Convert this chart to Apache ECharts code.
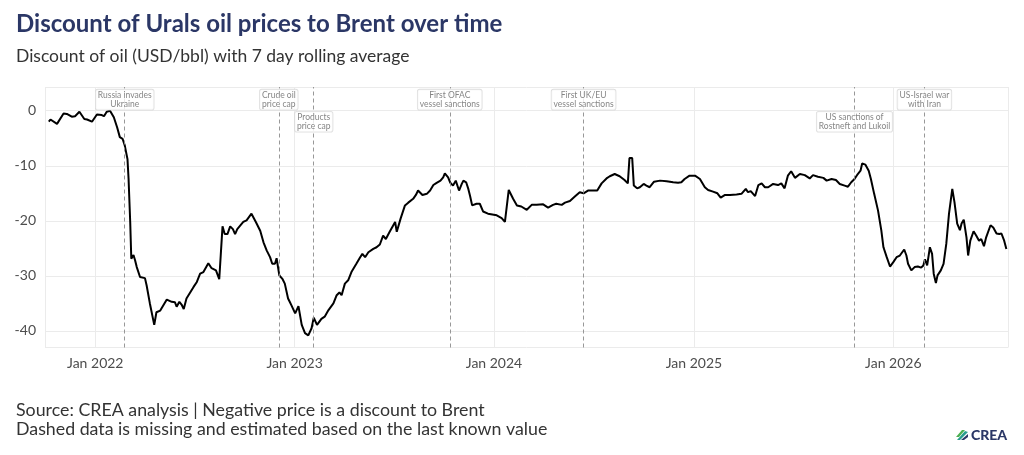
<!DOCTYPE html>
<html>
<head>
<meta charset="utf-8">
<script src="https://cdn.jsdelivr.net/npm/echarts@6/dist/echarts.min.js"></script>
<style>
  html, body { margin: 0; padding: 0; background: #fff; }
  #chart { width: 1024px; height: 455px; }
</style>
</head>
<body>
<div id="chart"></div>
<script>
// ---------------- DATA ----------------
const dates = [
  "2021-10-08","2021-10-11","2021-10-23","2021-11-04","2021-11-10","2021-11-19","2021-11-25","2021-12-03",
  "2021-12-12","2021-12-17","2021-12-26","2022-01-04","2022-01-13","2022-01-17","2022-01-22","2022-01-28",
  "2022-01-31","2022-02-04","2022-02-10","2022-02-15","2022-02-20","2022-02-24","2022-03-01","2022-03-03",
  "2022-03-06","2022-03-08","2022-03-12","2022-03-15","2022-03-18","2022-03-24","2022-04-02","2022-04-05",
  "2022-04-11","2022-04-19","2022-04-23","2022-04-30","2022-05-12","2022-05-15","2022-05-21","2022-05-27",
  "2022-05-30","2022-06-04","2022-06-08","2022-06-12","2022-06-17","2022-06-30","2022-07-06","2022-07-12",
  "2022-07-18","2022-07-27","2022-08-02","2022-08-10","2022-08-16","2022-08-22","2022-08-26","2022-08-31",
  "2022-09-05","2022-09-10","2022-09-14","2022-09-18","2022-09-29","2022-10-05","2022-10-14","2022-10-22",
  "2022-10-30","2022-11-05","2022-11-11","2022-11-17","2022-11-21","2022-11-26","2022-11-29","2022-12-04",
  "2022-12-10","2022-12-14","2022-12-20","2022-12-23","2022-12-26","2023-01-02","2023-01-08","2023-01-14",
  "2023-01-20","2023-01-26","2023-02-01","2023-02-05","2023-02-11","2023-02-19","2023-02-25","2023-03-04",
  "2023-03-13","2023-03-19","2023-03-24","2023-03-28","2023-04-03","2023-04-09","2023-04-15","2023-04-24",
  "2023-05-01","2023-05-05","2023-05-10","2023-05-16","2023-05-25","2023-05-31","2023-06-06","2023-06-12",
  "2023-06-17","2023-06-24","2023-07-04","2023-07-07","2023-07-10","2023-07-14","2023-07-22","2023-07-28",
  "2023-08-06","2023-08-11","2023-08-15","2023-08-23","2023-08-31","2023-09-06","2023-09-12","2023-09-18",
  "2023-09-25","2023-09-30","2023-10-03","2023-10-09","2023-10-13","2023-10-18","2023-10-23","2023-10-26",
  "2023-10-29","2023-11-03","2023-11-06","2023-11-11","2023-11-15","2023-11-18","2023-11-22","2023-11-30",
  "2023-12-06","2023-12-12","2023-12-21","2024-01-06","2024-01-15","2024-01-21","2024-01-28","2024-02-05",
  "2024-02-12","2024-02-20","2024-03-01","2024-03-10","2024-03-19","2024-03-31","2024-04-09","2024-04-18",
  "2024-04-24","2024-05-04","2024-05-10","2024-05-19","2024-05-28","2024-06-06","2024-06-13","2024-06-21",
  "2024-07-08","2024-07-16","2024-07-25","2024-07-31","2024-08-09","2024-08-18","2024-08-27","2024-09-02",
  "2024-09-05","2024-09-10","2024-09-13","2024-09-19","2024-09-24","2024-10-01","2024-10-06","2024-10-12",
  "2024-10-20","2024-10-31","2024-11-12","2024-11-24","2024-12-03","2024-12-09","2024-12-15","2024-12-24",
  "2025-01-03","2025-01-12","2025-01-21","2025-01-27","2025-02-05","2025-02-13","2025-02-19","2025-02-27",
  "2025-03-08","2025-03-20","2025-03-29","2025-04-06","2025-04-10","2025-04-15","2025-04-23","2025-04-29",
  "2025-05-05","2025-05-11","2025-05-17","2025-05-26","2025-06-04","2025-06-10","2025-06-16","2025-06-22",
  "2025-06-28","2025-07-05","2025-07-14","2025-07-23","2025-08-01","2025-08-07","2025-08-16","2025-08-26",
  "2025-09-01","2025-09-10","2025-09-18","2025-09-25","2025-10-04","2025-10-10","2025-10-16","2025-10-22",
  "2025-10-28","2025-11-02","2025-11-05","2025-11-11","2025-11-17","2025-11-21","2025-11-27","2025-12-04",
  "2025-12-10","2025-12-14","2025-12-20","2025-12-26","2026-01-01","2026-01-07","2026-01-13","2026-01-16",
  "2026-01-21","2026-01-25","2026-01-28","2026-02-03","2026-02-09","2026-02-15","2026-02-21","2026-02-25",
  "2026-02-28","2026-03-04","2026-03-09","2026-03-13","2026-03-16","2026-03-20","2026-03-23","2026-03-29",
  "2026-04-03","2026-04-08","2026-04-13","2026-04-15","2026-04-19","2026-04-23","2026-04-28","2026-05-03",
  "2026-05-06","2026-05-10","2026-05-15","2026-05-18","2026-05-22","2026-05-28","2026-06-02","2026-06-07",
  "2026-06-11","2026-06-16","2026-06-20","2026-06-28","2026-07-03","2026-07-09","2026-07-14","2026-07-18",
  "2026-07-23","2026-07-27"
];
const discount = [
  -2.0,-1.6,-2.4,-0.5,-0.6,-1.1,-1.0,-0.2,
  -1.5,-1.6,-2.0,-0.7,-0.8,-1.0,-0.2,0.0,
  0.3,-1.2,-3.0,-4.8,-5.1,-6.3,-8.8,-12.4,
  -20.2,-26.9,-26.2,-27.2,-28.4,-30.2,-30.4,-31.7,
  -35.0,-38.9,-36.6,-36.3,-34.3,-34.6,-34.7,-34.8,
  -35.6,-34.7,-35.2,-36.0,-34.1,-32.0,-31.1,-29.6,
  -29.3,-27.7,-28.6,-29.0,-30.6,-21.0,-22.4,-22.4,
  -21.0,-21.5,-22.4,-21.5,-20.2,-19.9,-18.7,-20.2,
  -21.8,-23.9,-25.4,-26.6,-27.8,-27.8,-26.8,-29.9,
  -30.6,-31.4,-34.1,-34.7,-35.3,-36.8,-35.5,-38.9,
  -40.4,-40.8,-39.5,-37.6,-38.9,-37.8,-37.4,-36.2,
  -35.0,-33.5,-33.0,-33.5,-31.4,-30.8,-29.3,-27.8,
  -26.6,-26.0,-26.6,-25.7,-25.1,-24.8,-24.3,-22.7,
  -23.3,-22.0,-20.2,-22.0,-22.1,-19.6,-17.2,-16.7,
  -16.0,-15.3,-14.5,-15.3,-15.1,-14.5,-13.5,-13.1,
  -12.7,-12.1,-11.4,-12.1,-13.1,-13.6,-12.7,-12.9,
  -14.5,-13.3,-12.7,-13.0,-14.2,-15.4,-17.2,-16.9,
  -16.9,-18.3,-18.7,-19.0,-19.5,-20.2,-14.4,-16.0,
  -17.2,-17.4,-18.0,-17.1,-17.1,-17.0,-17.6,-17.1,
  -16.9,-17.1,-16.7,-16.4,-15.6,-14.8,-15.0,-14.5,
  -14.5,-13.2,-12.3,-11.9,-11.5,-11.9,-12.6,-13.2,
  -8.6,-8.6,-13.6,-14.1,-13.9,-13.3,-13.6,-13.9,
  -12.9,-12.7,-12.8,-13.0,-13.1,-13.0,-12.4,-11.8,
  -11.8,-12.4,-13.9,-14.4,-14.7,-15.0,-15.8,-15.3,
  -15.3,-15.2,-15.1,-14.2,-14.8,-14.6,-15.5,-13.5,
  -13.2,-13.9,-13.9,-13.3,-13.5,-13.2,-14.1,-11.8,
  -11.0,-12.2,-11.5,-11.7,-12.3,-11.7,-12.0,-12.2,
  -12.7,-12.4,-12.6,-13.3,-13.6,-13.8,-13.0,-12.4,
  -11.5,-10.9,-9.6,-9.8,-10.9,-12.4,-15.1,-18.1,
  -21.7,-24.8,-26.6,-28.3,-27.5,-26.6,-26.3,-26.3,
  -25.2,-26.3,-27.8,-29.0,-28.4,-28.3,-28.5,-28.1,
  -27.0,-28.1,-24.8,-26.0,-29.6,-31.3,-29.9,-29.0,
  -27.8,-24.2,-18.7,-18.4,-14.2,-16.6,-20.5,-21.7,
  -20.5,-19.8,-23.0,-26.3,-23.6,-21.9,-22.7,-23.6,
  -23.3,-24.6,-23.0,-20.8,-21.2,-22.3,-22.4,-22.3,
  -23.6,-25.1
];
const eventDates  = ["2022-02-24","2022-12-03","2023-02-05","2023-10-12","2024-06-13","2025-10-22","2026-02-27"];
const eventLabels = ["Russia invades\nUkraine","Crude oil\nprice cap","Products\nprice cap","First OFAC\nvessel sanctions",
                     "First UK/EU\nvessel sanctions","US sanctions of\nRostneft and Lukoil","US-Israel war\nwith Iran"];
const eventRows   = [0,0,1,0,0,1,0];
const yTicks = [0,-10,-20,-30,-40];

// ---------------- LAYOUT / STYLE ----------------
const X_MIN = "2021-10-01", X_MAX = "2026-07-30";
const Y_MIN = -43, Y_MAX = 4.3;
const ROW_Y = [2.0, -2.0];
const FONT = "Lato, 'Noto Sans', sans-serif";

function toTime(s) { const p = s.split("-").map(Number); return new Date(p[0], p[1]-1, p[2]).getTime(); }

const lineData = dates.map((d, i) => [toTime(d), discount[i]]);
const labelData = eventDates.map((d, i) => [toTime(d), ROW_Y[eventRows[i]]]);
const vlines = eventDates.map(d => ({xAxis: toTime(d)}));

const chart = echarts.init(document.getElementById("chart"), null, {renderer: "canvas"});
const YEAR = 365 * 24 * 3600 * 1000;

chart.setOption({
  animation: false,
  textStyle: {fontFamily: FONT},
  grid: {left: 45, right: 16, top: 87, bottom: 107.5, containLabel: false},
  xAxis: {
    type: "time",
    min: toTime(X_MIN), max: toTime(X_MAX),
    minInterval: YEAR, maxInterval: YEAR,
    axisLine: {show: false}, axisTick: {show: false},
    splitLine: {show: true, lineStyle: {color: "#ebebeb", width: 1}},
    axisLabel: {
      fontSize: 14, color: "#4d4d4d", margin: 9, fontFamily: FONT,
      hideOverlap: false, showMinLabel: true, showMaxLabel: true,
      formatter: v => { const d = new Date(v); return (d.getMonth() === 0 && d.getDate() === 1) ? "Jan " + d.getFullYear() : ""; }
    }
  },
  yAxis: {
    type: "value", min: Y_MIN, max: Y_MAX,
    axisLine: {show: false}, axisTick: {show: false},
    splitLine: {show: true, lineStyle: {color: "#ebebeb", width: 1}},
    axisLabel: {
      fontSize: 14, color: "#4d4d4d", margin: 9, fontFamily: FONT,
      formatter: v => yTicks.indexOf(Math.round(v * 1000) / 1000) >= 0 ? String(v) : ""
    }
  },
  series: [
    {
      type: "line", data: lineData, showSymbol: false, symbol: "none", z: 3,
      lineStyle: {color: "#000", width: 2}, silent: true,
      markLine: {
        silent: true, symbol: ["none", "none"], label: {show: false},
        lineStyle: {color: "#8c8c8c", type: [4, 3], width: 0.9},
        emphasis: {disabled: true},
        data: vlines
      }
    },
    {
      type: "scatter", data: labelData, symbolSize: 1, itemStyle: {color: "rgba(0,0,0,0)"}, z: 10, silent: true,
      label: {
        show: true, position: "inside",
        formatter: p => eventLabels[p.dataIndex],
        fontSize: 8.5, lineHeight: 9, color: "#666", fontFamily: FONT,
        backgroundColor: "#fff", borderColor: "#d6d6d6", borderWidth: 0.8, borderRadius: 2,
        padding: [1, 2, 1, 2], align: "center", verticalAlign: "middle"
      }
    }
  ],
  graphic: [
    {type: "text", left: 16, top: 12, style: {text: "Discount of Urals oil prices to Brent over time",
      font: "bold 24px " + FONT, fill: "#2b3766"}},
    {type: "text", left: 16, top: 47, style: {text: "Discount of oil (USD/bbl) with 7 day rolling average",
      font: "17.5px " + FONT, fill: "#333"}},
    {type: "text", left: 16, top: 401, style: {text: "Source: CREA analysis | Negative price is a discount to Brent",
      font: "17.8px " + FONT, fill: "#333"}},
    {type: "text", left: 16, top: 420, style: {text: "Dashed data is missing and estimated based on the last known value",
      font: "17.8px " + FONT, fill: "#333"}},
    {type: "text", left: 971, top: 428, style: {text: "CREA", font: "900 14px " + FONT, fill: "#2b3766"}},
    {type: "group", left: 956, top: 430, children: [
      {type: "polygon", shape: {points: [[0,7],[6,0],[9,0],[3,7]]}, style: {fill: "#4caf50"}},
      {type: "polygon", shape: {points: [[1,10],[9,1],[12,2],[4,10]]}, style: {fill: "#2a9d8f"}},
      {type: "polygon", shape: {points: [[5,10],[12,4],[12,7],[8,10]]}, style: {fill: "#2b3766"}}
    ]}
  ]
});
</script>
</body>
</html>
